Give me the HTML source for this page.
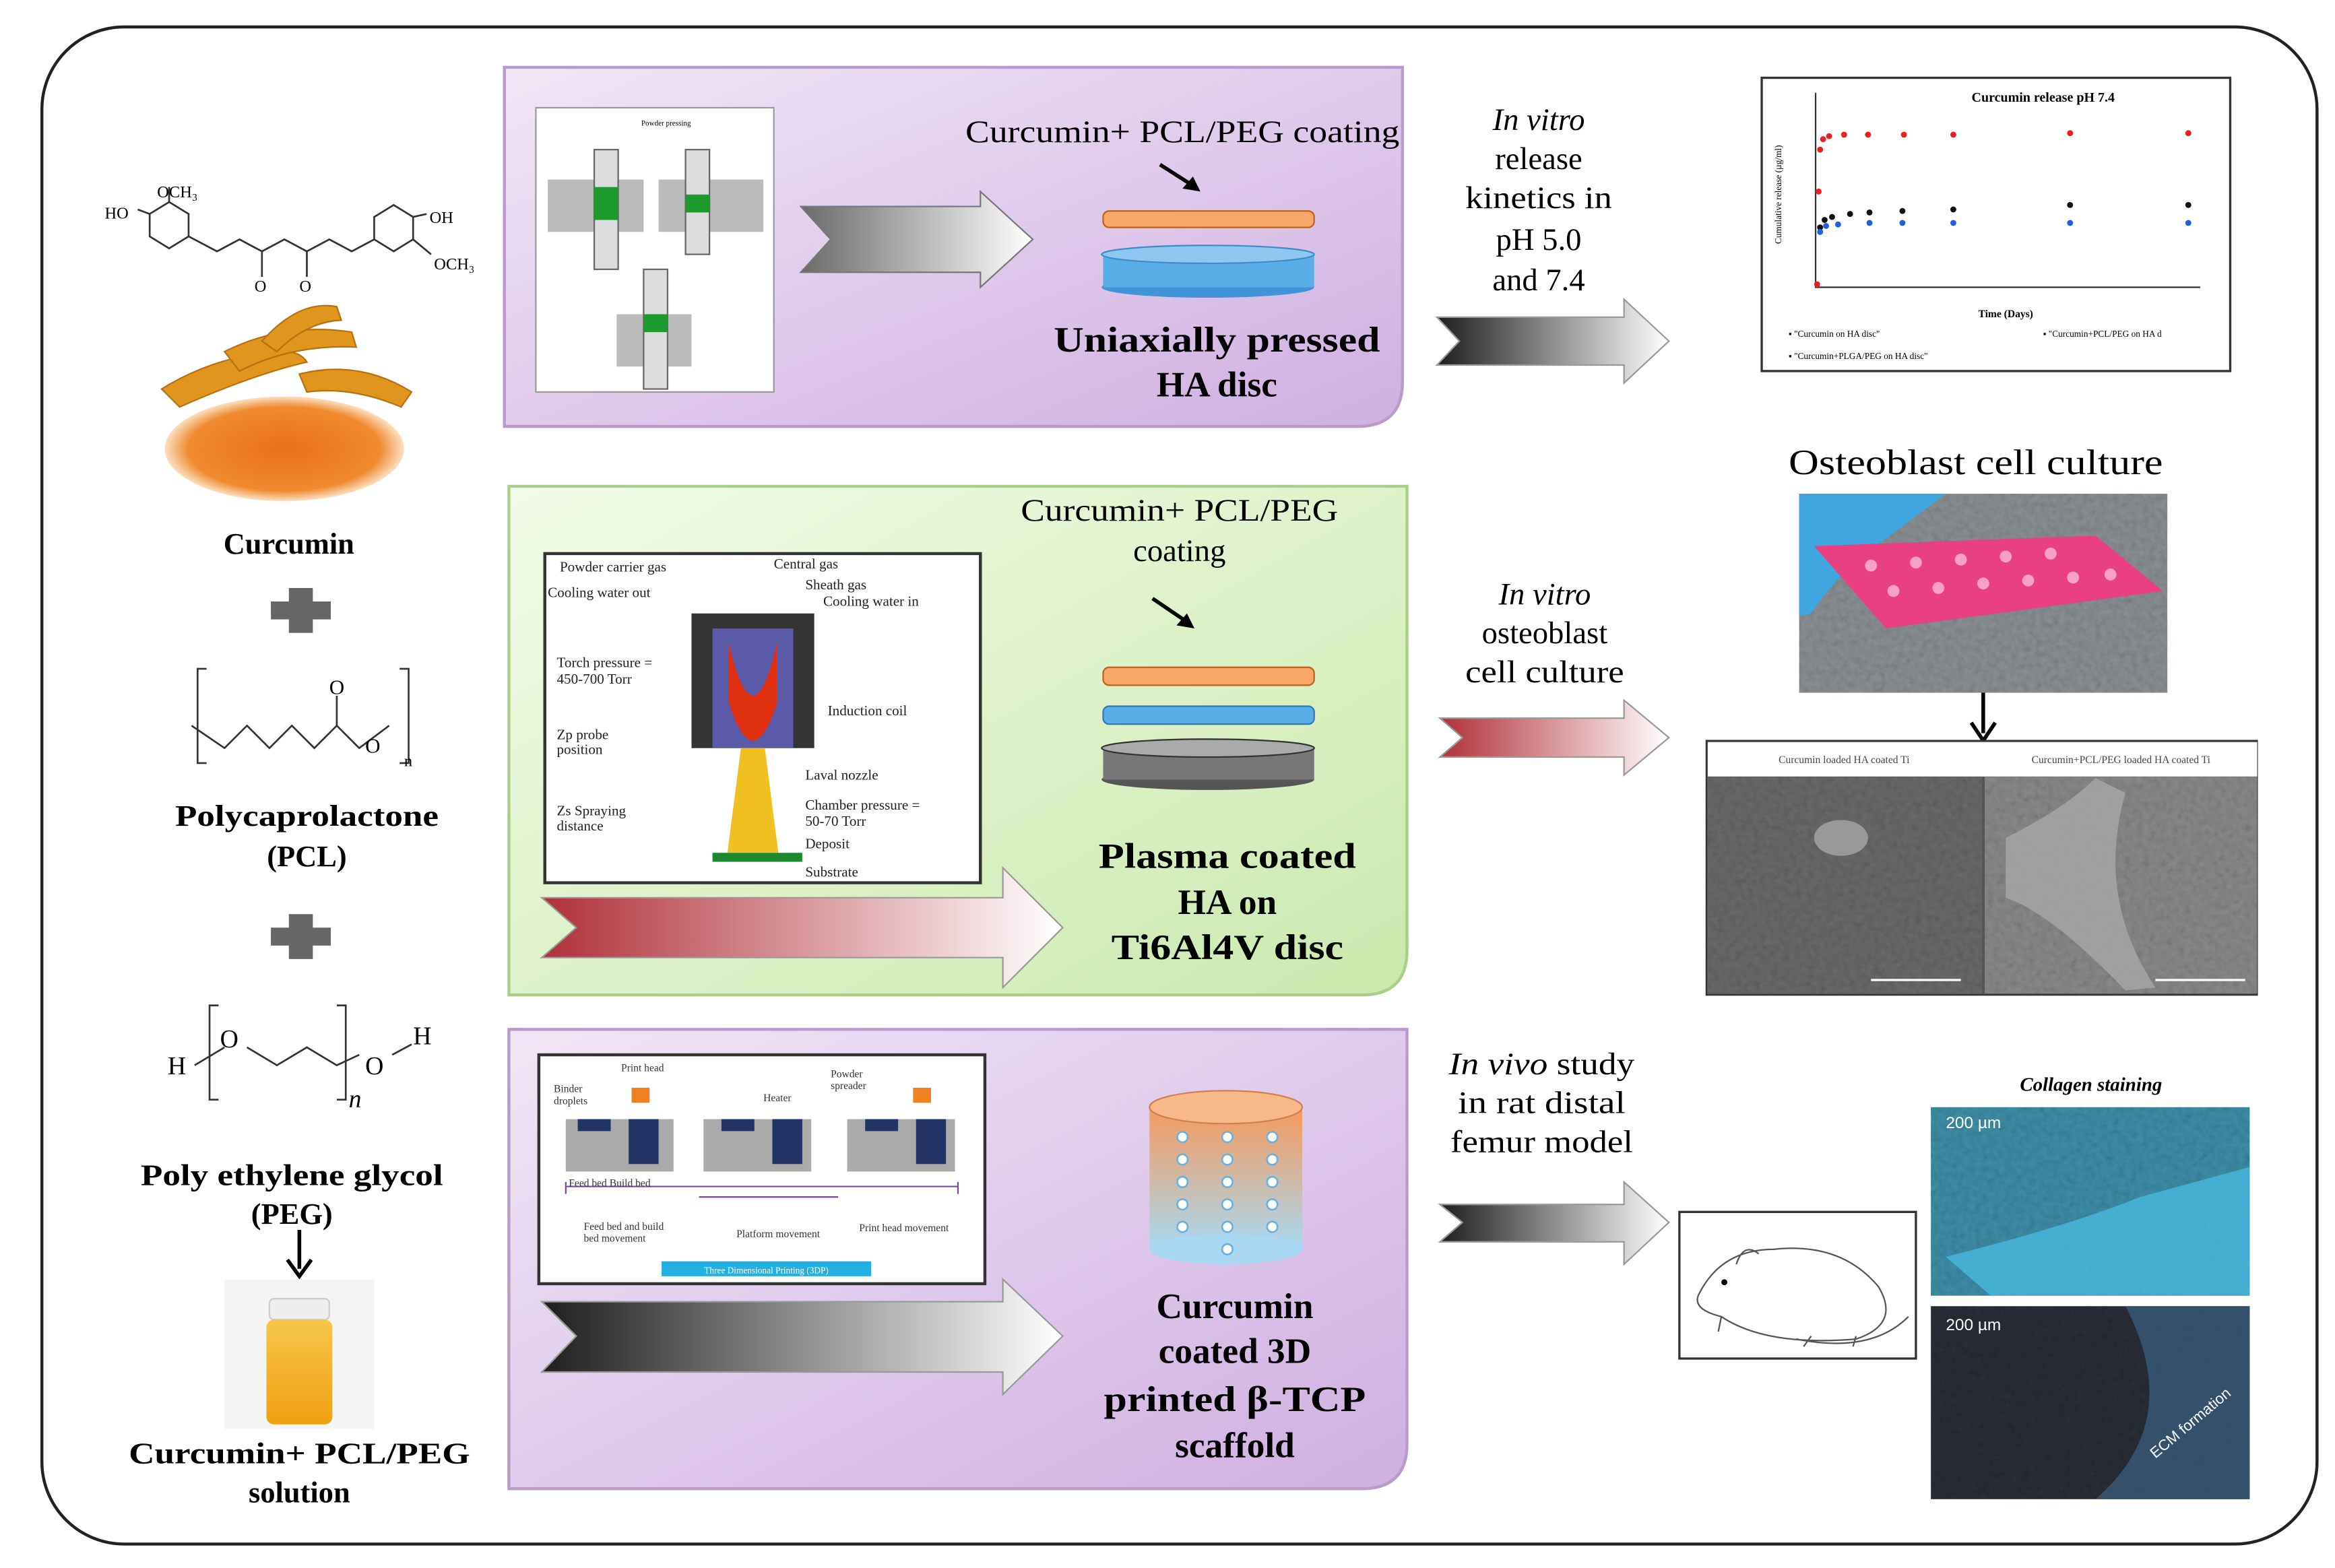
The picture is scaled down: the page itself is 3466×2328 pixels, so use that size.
<!DOCTYPE html>
<html><head><meta charset="utf-8"><style>
html,body{margin:0;padding:0;background:#fff;}
svg{display:block;}
text{font-family:"Liberation Serif",serif;}
.s{font-family:"Liberation Sans",sans-serif;}
</style></head><body>
<svg width="3466" height="2328" viewBox="0 0 1560 1048" preserveAspectRatio="none" xmlns="http://www.w3.org/2000/svg">
<defs>
<linearGradient id="pur" x1="0" y1="0" x2="1" y2="1"><stop offset="0" stop-color="#f1e6f6"/><stop offset="1" stop-color="#cfb0e0"/></linearGradient>
<linearGradient id="grn" x1="0" y1="0" x2="1" y2="1"><stop offset="0" stop-color="#f2fbe8"/><stop offset="1" stop-color="#cbe9ad"/></linearGradient>
<linearGradient id="gra" x1="0" x2="1"><stop offset="0" stop-color="#6a6a6a"/><stop offset="1" stop-color="#ffffff"/></linearGradient>
<linearGradient id="dark" x1="0" x2="1"><stop offset="0" stop-color="#1e1e1e"/><stop offset="1" stop-color="#ffffff"/></linearGradient>
<linearGradient id="red" x1="0" x2="1"><stop offset="0" stop-color="#b0303a"/><stop offset="1" stop-color="#ffffff"/></linearGradient>
<linearGradient id="cyl" x1="0" y1="0" x2="0" y2="1"><stop offset="0" stop-color="#f59a5a"/><stop offset="1" stop-color="#a9d8f2"/></linearGradient>
<linearGradient id="vial" x1="0" y1="0" x2="0" y2="1"><stop offset="0" stop-color="#f7c64a"/><stop offset="1" stop-color="#f0a010"/></linearGradient>
<radialGradient id="tur" cx="0.5" cy="0.5" r="0.5"><stop offset="0" stop-color="#e8701a"/><stop offset="0.8" stop-color="#f08a30"/><stop offset="1" stop-color="#fbe0c0"/></radialGradient>
<filter id="noise" x="0" y="0" width="1" height="1"><feTurbulence type="fractalNoise" baseFrequency="0.25" numOctaves="2" seed="3"/><feColorMatrix type="saturate" values="0"/><feComponentTransfer><feFuncA type="table" tableValues="0 0.55"/></feComponentTransfer><feComposite in2="SourceGraphic" operator="in"/><feBlend in2="SourceGraphic" mode="multiply"/></filter>
</defs>
<rect x="0" y="0" width="1560" height="1048" fill="#fff"/>
<rect x="28" y="18" width="1520" height="1014" rx="55" fill="none" stroke="#222" stroke-width="2"/>

<!-- Box 1 -->
<path d="M337,45 H937 V255 Q937,285 907,285 H337 Z" fill="url(#pur)" stroke="#b89acb" stroke-width="2"/>
<rect x="358" y="72" width="159" height="190" fill="#fff" stroke="#999"/>
<text x="445" y="84" font-size="5" text-anchor="middle">Powder pressing</text>
<rect x="366" y="120" width="64" height="35" fill="#bbb"/><rect x="397" y="100" width="16" height="80" fill="#ddd" stroke="#666"/><rect x="397" y="125" width="16" height="22" fill="#1c9a2c"/>
<rect x="440" y="120" width="70" height="35" fill="#bbb"/><rect x="458" y="100" width="16" height="70" fill="#ddd" stroke="#666"/><rect x="458" y="130" width="16" height="12" fill="#1c9a2c"/>
<rect x="412" y="210" width="50" height="35" fill="#bbb"/><rect x="430" y="180" width="16" height="80" fill="#ddd" stroke="#666"/><rect x="430" y="210" width="16" height="12" fill="#1c9a2c"/>
<path d="M535,138 H655 V128 L690,160 L655,192 V182 H535 L555,160 Z" fill="url(#gra)" stroke="#777"/>
<text x="790" y="95" font-size="21" text-anchor="middle" textLength="290" lengthAdjust="spacingAndGlyphs">Curcumin+ PCL/PEG coating</text>
<path d="M775,110 L800,126" stroke="#000" stroke-width="2.5"/><path d="M802,128 L790,126 L797,118 Z" fill="#000"/>
<rect x="737" y="141" width="141" height="11" rx="4" fill="#f7a868" stroke="#c06020"/>
<ellipse cx="807" cy="192" rx="71" ry="7" fill="#3f95d8"/><rect x="737" y="170" width="141" height="22" fill="#5aaee8"/><ellipse cx="807" cy="170" rx="71" ry="6" fill="#8cc8f0" stroke="#3f8ac8"/>
<text x="813" y="235" font-size="24" font-weight="bold" text-anchor="middle" textLength="218" lengthAdjust="spacingAndGlyphs">Uniaxially pressed</text>
<text x="813" y="265" font-size="24" font-weight="bold" text-anchor="middle">HA disc</text>

<!-- Box 2 -->
<path d="M340,325 H940 V635 Q940,665 910,665 H340 Z" fill="url(#grn)" stroke="#a9cf88" stroke-width="2"/>
<rect x="364" y="370" width="291" height="220" fill="#fff" stroke="#333" stroke-width="2"/>
<rect x="462" y="410" width="82" height="90" fill="#333"/><rect x="476" y="420" width="54" height="80" fill="#5a5aa8"/>
<path d="M487,430 Q503,500 519,430 V470 Q503,520 487,470 Z" fill="#e03010"/>
<path d="M495,500 H511 L520,570 H486 Z" fill="#f0c020"/><rect x="476" y="570" width="60" height="6" fill="#1c8a2c"/>
<g class="s" font-size="9.5" fill="#222">
<text x="374" y="382">Powder carrier gas</text><text x="517" y="380">Central gas</text><text x="366" y="399">Cooling water out</text>
<text x="538" y="394">Sheath gas</text><text x="550" y="405">Cooling water in</text><text x="372" y="446">Torch pressure =</text><text x="372" y="457">450-700 Torr</text>
<text x="553" y="478">Induction coil</text><text x="372" y="494">Zp probe</text><text x="372" y="504">position</text><text x="538" y="521">Laval nozzle</text>
<text x="372" y="545">Zs Spraying</text><text x="372" y="555">distance</text><text x="538" y="541">Chamber pressure =</text><text x="538" y="552">50-70 Torr</text>
<text x="538" y="567">Deposit</text><text x="538" y="586">Substrate</text></g>
<path d="M362,600 H670 V580 L710,620 L670,660 V640 H362 L385,620 Z" fill="url(#red)" stroke="#999"/>
<text x="788" y="348" font-size="21" text-anchor="middle" textLength="212" lengthAdjust="spacingAndGlyphs">Curcumin+ PCL/PEG</text>
<text x="788" y="375" font-size="21" text-anchor="middle">coating</text>
<path d="M770,400 L795,417" stroke="#000" stroke-width="2.5"/><path d="M798,420 L786,418 L793,410 Z" fill="#000"/>
<rect x="737" y="446" width="141" height="12" rx="4" fill="#f7a868" stroke="#c06020"/>
<rect x="737" y="472" width="141" height="12" rx="4" fill="#5aaee8" stroke="#2f7ab8"/>
<ellipse cx="807" cy="521" rx="71" ry="7" fill="#555"/><rect x="737" y="500" width="141" height="21" fill="#777"/><ellipse cx="807" cy="500" rx="71" ry="6" fill="#aaa" stroke="#333"/>
<text x="820" y="580" font-size="24" font-weight="bold" text-anchor="middle" textLength="172" lengthAdjust="spacingAndGlyphs">Plasma coated</text>
<text x="820" y="611" font-size="24" font-weight="bold" text-anchor="middle">HA on</text>
<text x="820" y="641" font-size="24" font-weight="bold" text-anchor="middle" textLength="155" lengthAdjust="spacingAndGlyphs">Ti6Al4V disc</text>

<!-- Box 3 -->
<path d="M340,688 H940 V965 Q940,995 910,995 H340 Z" fill="url(#pur)" stroke="#b89acb" stroke-width="2"/>
<rect x="360" y="705" width="298" height="153" fill="#fff" stroke="#333" stroke-width="2"/>
<g fill="#aaa"><rect x="378" y="748" width="72" height="35"/><rect x="470" y="748" width="72" height="35"/><rect x="566" y="748" width="72" height="35"/></g>
<g fill="#223366"><rect x="386" y="748" width="22" height="8"/><rect x="420" y="748" width="20" height="30"/><rect x="482" y="748" width="22" height="8"/><rect x="516" y="748" width="20" height="30"/><rect x="578" y="748" width="22" height="8"/><rect x="612" y="748" width="20" height="30"/></g>
<rect x="422" y="727" width="12" height="10" fill="#f08020"/><rect x="610" y="727" width="12" height="10" fill="#f08020"/>
<path d="M378,793 H640 M378,790 V798 M640,790 V798 M467,800 H560" stroke="#7a4aa0" stroke-width="1"/>
<g font-size="7" fill="#333"><text x="370" y="730">Binder</text><text x="370" y="738">droplets</text><text x="415" y="716">Print head</text><text x="510" y="736">Heater</text><text x="555" y="720">Powder</text><text x="555" y="728">spreader</text><text x="380" y="793">Feed bed  Build bed</text><text x="390" y="822">Feed bed and build</text><text x="390" y="830">bed movement</text><text x="492" y="827">Platform movement</text><text x="574" y="823">Print head movement</text></g>
<rect x="442" y="843" width="140" height="10" fill="#22b0e0"/><text x="512" y="851" font-size="6" fill="#fff" text-anchor="middle">Three Dimensional Printing (3DP)</text>
<path d="M362,870 H670 V855 L710,893 L670,932 V917 H362 L385,893 Z" fill="url(#dark)" stroke="#999"/>
<rect x="768" y="740" width="102" height="95" fill="url(#cyl)"/>
<ellipse cx="819" cy="835" rx="51" ry="10" fill="#a9d8f2"/>
<ellipse cx="819" cy="740" rx="51" ry="11" fill="#f8b888" stroke="#d08050"/>
<g fill="#fff" stroke="#6ab0e0" stroke-width="1.2">
<circle cx="790" cy="760" r="3.5"/><circle cx="790" cy="775" r="3.5"/><circle cx="790" cy="790" r="3.5"/><circle cx="790" cy="805" r="3.5"/><circle cx="790" cy="820" r="3.5"/>
<circle cx="820" cy="760" r="3.5"/><circle cx="820" cy="775" r="3.5"/><circle cx="820" cy="790" r="3.5"/><circle cx="820" cy="805" r="3.5"/><circle cx="820" cy="820" r="3.5"/><circle cx="820" cy="835" r="3.5"/>
<circle cx="850" cy="760" r="3.5"/><circle cx="850" cy="775" r="3.5"/><circle cx="850" cy="790" r="3.5"/><circle cx="850" cy="805" r="3.5"/><circle cx="850" cy="820" r="3.5"/></g>
<text x="825" y="881" font-size="24" font-weight="bold" text-anchor="middle">Curcumin</text>
<text x="825" y="911" font-size="24" font-weight="bold" text-anchor="middle">coated 3D</text>
<text x="825" y="943" font-size="24" font-weight="bold" text-anchor="middle" textLength="175" lengthAdjust="spacingAndGlyphs">printed β-TCP</text>
<text x="825" y="974" font-size="24" font-weight="bold" text-anchor="middle">scaffold</text>

<!-- Middle arrows -->
<path d="M960,212 H1085 V200 L1115,228 L1085,256 V244 H960 L975,228 Z" fill="url(#dark)" stroke="#999"/>
<path d="M962,480 H1085 V468 L1115,493 L1085,518 V506 H962 L977,493 Z" fill="url(#red)" stroke="#999"/>
<path d="M962,805 H1085 V790 L1115,817 L1085,845 V830 H962 L977,817 Z" fill="url(#dark)" stroke="#999"/>
<g font-size="21" text-anchor="middle">
<text x="1028" y="87" font-style="italic">In vitro</text><text x="1028" y="113">release</text><text x="1028" y="139" textLength="98" lengthAdjust="spacingAndGlyphs">kinetics in</text><text x="1028" y="167">pH 5.0</text><text x="1028" y="194">and 7.4</text>
<text x="1032" y="404" font-style="italic">In vitro</text><text x="1032" y="430">osteoblast</text><text x="1032" y="456" textLength="106" lengthAdjust="spacingAndGlyphs">cell culture</text>
<text x="1030" y="718" textLength="124" lengthAdjust="spacingAndGlyphs"><tspan font-style="italic">In vivo</tspan> study</text><text x="1030" y="744" textLength="112" lengthAdjust="spacingAndGlyphs">in rat distal</text><text x="1030" y="770" textLength="122" lengthAdjust="spacingAndGlyphs">femur model</text></g>

<!-- Chart -->
<rect x="1177" y="52" width="313" height="196" fill="#fff" stroke="#333" stroke-width="1.5"/>
<text x="1365" y="68" font-size="9" font-weight="bold" text-anchor="middle">Curcumin release pH 7.4</text>
<path d="M1213,62 V192 H1470" stroke="#333" fill="none"/>
<text x="1190" y="130" font-size="6" transform="rotate(-90 1190 130)" text-anchor="middle">Cumulative release (µg/ml)</text>
<text x="1340" y="212" font-size="7" font-weight="bold" text-anchor="middle">Time (Days)</text>
<g fill="#e82020"><circle cx="1214" cy="190" r="2"/><circle cx="1215" cy="128" r="2"/><circle cx="1216" cy="100" r="2"/><circle cx="1218" cy="93" r="2"/><circle cx="1222" cy="91" r="2"/><circle cx="1232" cy="90" r="2"/><circle cx="1248" cy="90" r="2"/><circle cx="1272" cy="90" r="2"/><circle cx="1305" cy="90" r="2"/><circle cx="1383" cy="89" r="2"/><circle cx="1462" cy="89" r="2"/></g>
<g fill="#111"><circle cx="1216" cy="152" r="2"/><circle cx="1219" cy="147" r="2"/><circle cx="1224" cy="145" r="2"/><circle cx="1236" cy="143" r="2"/><circle cx="1249" cy="142" r="2"/><circle cx="1271" cy="141" r="2"/><circle cx="1305" cy="140" r="2"/><circle cx="1383" cy="137" r="2"/><circle cx="1462" cy="137" r="2"/></g>
<g fill="#2060e0"><circle cx="1216" cy="155" r="2"/><circle cx="1220" cy="151" r="2"/><circle cx="1228" cy="150" r="2"/><circle cx="1249" cy="149" r="2"/><circle cx="1271" cy="149" r="2"/><circle cx="1305" cy="149" r="2"/><circle cx="1383" cy="149" r="2"/><circle cx="1462" cy="149" r="2"/></g>
<g font-size="6"><text x="1195" y="225">▪ "Curcumin on HA disc"</text><text x="1365" y="225">▪ "Curcumin+PCL/PEG on HA d</text><text x="1195" y="240">▪ "Curcumin+PLGA/PEG on HA disc"</text></g>

<!-- Osteoblast -->
<text x="1320" y="317" font-size="24" text-anchor="middle" textLength="250" lengthAdjust="spacingAndGlyphs">Osteoblast cell culture</text>
<rect x="1202" y="330" width="246" height="133" fill="#8a9094" filter="url(#noise)"/>
<path d="M1202,330 H1300 L1260,360 Q1230,380 1210,410 L1202,412 Z" fill="#3fa6e0"/>
<path d="M1212,365 L1400,358 L1445,395 L1260,420 Z" fill="#e84080"/>
<g fill="#f8a0c8"><circle cx="1250" cy="378" r="4"/><circle cx="1280" cy="376" r="4"/><circle cx="1310" cy="374" r="4"/><circle cx="1340" cy="372" r="4"/><circle cx="1370" cy="370" r="4"/><circle cx="1265" cy="395" r="4"/><circle cx="1295" cy="393" r="4"/><circle cx="1325" cy="390" r="4"/><circle cx="1355" cy="388" r="4"/><circle cx="1385" cy="386" r="4"/><circle cx="1410" cy="384" r="4"/></g>
<path d="M1325,463 V490" stroke="#000" stroke-width="2.5"/><path d="M1317,483 L1325,495 L1333,483" stroke="#000" stroke-width="2.5" fill="none"/>
<rect x="1140" y="495" width="368" height="170" fill="#555" stroke="#333"/>
<rect x="1141" y="496" width="367" height="23" fill="#fff"/>
<rect x="1141" y="519" width="183" height="145" fill="#6a6a6a" filter="url(#noise)"/><rect x="1326" y="519" width="182" height="145" fill="#8a8a8a" filter="url(#noise)"/>
<path d="M1340,560 Q1380,540 1400,520 L1420,530 Q1400,600 1440,660 L1420,662 Q1370,610 1340,600 Z" fill="#a8a8a8" opacity="0.8"/>
<ellipse cx="1230" cy="560" rx="18" ry="12" fill="#999"/>
<text x="1232" y="510" font-size="7" text-anchor="middle" fill="#444">Curcumin loaded HA coated Ti</text>
<text x="1417" y="510" font-size="7" text-anchor="middle" fill="#444">Curcumin+PCL/PEG loaded HA coated Ti</text>
<path d="M1250,655 H1310 M1440,655 H1500" stroke="#fff" stroke-width="1.5"/>

<!-- In vivo -->
<rect x="1122" y="810" width="158" height="98" fill="#fff" stroke="#333" stroke-width="1.5"/>
<path d="M1135,865 Q1150,835 1185,835 Q1230,830 1255,860 Q1270,885 1240,895 Q1180,900 1150,880 Q1130,875 1135,865 M1200,895 Q1250,905 1275,880 M1160,845 Q1165,830 1175,838 M1150,880 L1148,890 M1210,893 L1205,900 M1240,893 L1238,900" fill="none" stroke="#555"/>
<circle cx="1152" cy="857" r="2" fill="#000"/>
<text x="1397" y="729" font-size="13" font-weight="bold" font-style="italic" text-anchor="middle">Collagen staining</text>
<rect x="1290" y="740" width="213" height="126" fill="#3d8fa8" filter="url(#noise)"/>
<path d="M1300,840 Q1380,820 1430,800 L1503,780 V866 H1330 Z" fill="#4ab8e0" opacity="0.8"/>
<rect x="1290" y="873" width="213" height="129" fill="#2a2e36" filter="url(#noise)"/>
<path d="M1420,873 H1503 V1002 H1400 Q1460,950 1420,873 Z" fill="#3a5a78" opacity="0.8"/>
<text x="1300" y="754" font-size="11" fill="#fff" class="s">200 µm</text><text x="1300" y="889" font-size="11" fill="#fff" class="s">200 µm</text>
<text x="1440" y="975" font-size="10" fill="#fff" class="s" transform="rotate(-40 1440 975)">ECM formation</text>

<!-- Left column -->
<g stroke="#333" fill="none" stroke-width="1.2">
<polygon points="100,143 113,135 126,143 126,158 113,166 100,158"/>
<path d="M126,158 L145,168 L160,160 L175,168 L190,160 L205,168 L220,160 L235,168 L250,160"/>
<polygon points="250,160 250,145 263,137 276,145 276,160 263,168"/>
<path d="M113,135 L113,125 M100,143 L92,140 M175,168 V185 M205,168 V185 M276,145 L285,143 M276,160 L288,170"/></g>
<g font-size="11" class="s"><text x="105" y="132">OCH₃</text><text x="70" y="146">HO</text><text x="287" y="149">OH</text><text x="290" y="180">OCH₃</text><text x="170" y="195">O</text><text x="200" y="195">O</text></g>
<ellipse cx="190" cy="300" rx="80" ry="35" fill="url(#tur)"/>
<g fill="#e0961c" stroke="#b87010" stroke-width="1">
<path d="M108,260 Q140,240 180,235 Q200,233 205,242 Q170,250 120,272 Z"/>
<path d="M150,235 Q190,215 235,222 L238,232 Q195,230 160,248 Z"/>
<path d="M200,250 Q240,240 275,262 L268,272 Q235,258 205,262 Z"/>
<path d="M175,228 Q200,200 225,205 L228,214 Q205,215 185,235 Z"/></g>
<text x="193" y="370" font-size="20" font-weight="bold" text-anchor="middle">Curcumin</text>
<path d="M181,402 H193 V393 H209 V402 H221 V414 H209 V423 H193 V414 H181 Z" fill="#666"/>
<g stroke="#333" fill="none" stroke-width="1.2"><path d="M138,447 H132 V510 H138 M267,447 H273 V510 H267"/><path d="M128,485 L150,500 L165,485 L180,500 L195,485 L210,500 L225,485 L240,500 L260,485"/><path d="M225,485 V465"/></g>
<g class="s" font-size="14"><text x="220" y="464">O</text><text x="244" y="503">O</text><text x="270" y="512" font-size="11">n</text></g>
<text x="205" y="552" font-size="20" font-weight="bold" text-anchor="middle" textLength="176" lengthAdjust="spacingAndGlyphs">Polycaprolactone</text>
<text x="205" y="579" font-size="20" font-weight="bold" text-anchor="middle">(PCL)</text>
<path d="M181,620 H193 V611 H209 V620 H221 V632 H209 V641 H193 V632 H181 Z" fill="#666"/>
<g stroke="#333" fill="none" stroke-width="1.2"><path d="M146,672 H140 V735 H146 M225,672 H231 V735 H225"/><path d="M130,712 L150,700 M165,700 L185,712 L205,700 L225,712 L240,705 M262,705 L275,698"/></g>
<g class="s" font-size="17"><text x="112" y="718">H</text><text x="147" y="700">O</text><text x="244" y="718">O</text><text x="276" y="698">H</text><text x="233" y="740" font-style="italic">n</text></g>
<text x="195" y="792" font-size="20" font-weight="bold" text-anchor="middle" textLength="202" lengthAdjust="spacingAndGlyphs">Poly ethylene glycol</text>
<text x="195" y="818" font-size="20" font-weight="bold" text-anchor="middle">(PEG)</text>
<path d="M200,822 V848" stroke="#000" stroke-width="2.5"/><path d="M192,842 L200,853 L208,842" stroke="#000" stroke-width="2.5" fill="none"/>
<rect x="150" y="855" width="100" height="100" fill="#f4f4f2"/>
<rect x="180" y="868" width="40" height="14" rx="3" fill="#eee" stroke="#ccc"/>
<rect x="178" y="882" width="44" height="70" rx="5" fill="url(#vial)"/>
<text x="200" y="978" font-size="20" font-weight="bold" text-anchor="middle" textLength="228" lengthAdjust="spacingAndGlyphs">Curcumin+ PCL/PEG</text>
<text x="200" y="1004" font-size="20" font-weight="bold" text-anchor="middle">solution</text>
</svg>
</body></html>
